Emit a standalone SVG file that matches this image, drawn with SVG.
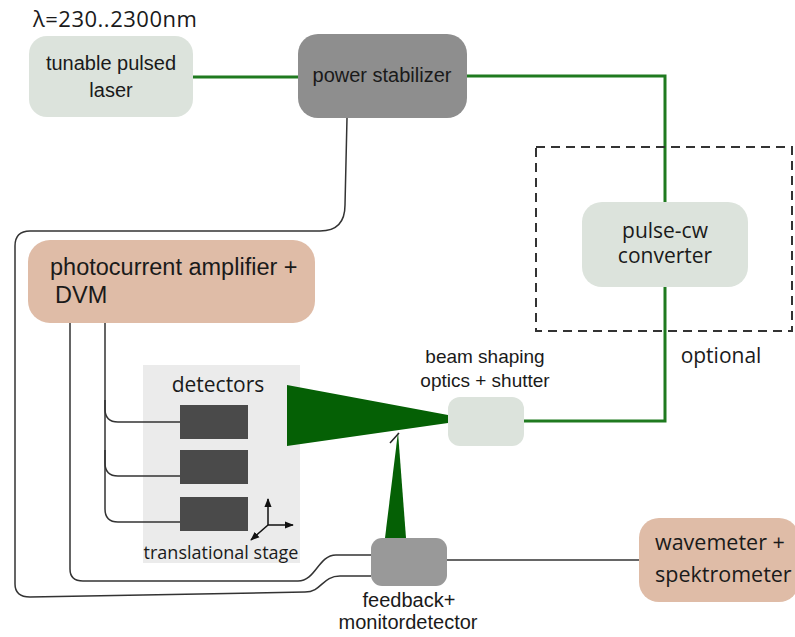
<svg xmlns="http://www.w3.org/2000/svg" width="795" height="637" viewBox="0 0 795 637">
<style>
.sans{font-family:"Liberation Sans",Arial,sans-serif;fill:#1a1a1a}
.open{font-family:"Open Sans","DejaVu Sans",sans-serif;fill:#1a1a1a}
.lg{fill:#dce3dc}
.tan{fill:#dfbca7}
.wire{fill:none;stroke:#333;stroke-width:1.5}
.fiber{fill:none;stroke:#1f7a1f;stroke-width:3}
.beam{fill:#056005}
</style>
<defs>
<marker id="ah" viewBox="0 0 10 10" refX="9" refY="5" markerWidth="6" markerHeight="6" orient="auto">
<path d="M0,1 L10,5 L0,9 z" fill="#111"/>
</marker>
</defs>
<rect width="795" height="637" fill="#fff"/>

<g id="stage">
<rect x="143" y="365" width="157" height="198" fill="#ebebeb"/>
<text class="open" x="218" y="392" font-size="21" text-anchor="middle">detectors</text>
<rect x="180" y="405" width="68" height="34" fill="#4a4a4a"/>
<rect x="180" y="450" width="68" height="34" fill="#4a4a4a"/>
<rect x="180" y="497" width="68" height="34" fill="#4a4a4a"/>
<g stroke="#111" stroke-width="1.5" fill="none">
<line x1="268" y1="525" x2="268" y2="499" marker-end="url(#ah)"/>
<line x1="268" y1="525" x2="293" y2="525" marker-end="url(#ah)"/>
<line x1="268" y1="525" x2="251" y2="540" marker-end="url(#ah)"/>
</g>
<text class="open" x="221" y="559" font-size="18" text-anchor="middle">translational stage</text>
</g>

<g id="connectors">
<path class="fiber" d="M193,77 H298"/>
<path class="fiber" d="M467,76 H665 V202"/>
<path class="fiber" d="M665,287 V421 H524"/>
<path class="wire" d="M347,118 L345,205 Q345,231 320,231 H30 Q15,231 15,246 V584 Q15,597 30,597 L305,592 C322,592 322,576 340,576 H371"/>
<path class="wire" d="M70,323 V569 Q70,581 83,581 H298 C316,581 318,555 336,555 H371"/>
<path class="wire" d="M105,323 V409 Q105,422 118,422 H180"/>
<path class="wire" d="M105,400 V463 Q105,476 118,476 H180"/>
<path class="wire" d="M105,450 V509 Q105,522 118,522 H180"/>
<path d="M447,560 H639" fill="none" stroke="#666" stroke-width="2"/>
<polygon class="beam" points="287,385 448,415 448,423 287,446"/>
<polygon class="beam" points="385,538 398,432 406,538"/>
<line x1="390" y1="443" x2="399" y2="433" stroke="#222" stroke-width="1.5"/>
</g>

<g id="laser">
<text class="open" x="33" y="27" font-size="22" letter-spacing="0.5">λ=230..2300nm</text>
<rect class="lg" x="29" y="36" width="164" height="81" rx="18"/>
<text class="sans" x="111" y="70" font-size="20" text-anchor="middle">tunable pulsed</text>
<text class="sans" x="111" y="97" font-size="20" text-anchor="middle">laser</text>
</g>

<g id="power-stabilizer">
<rect x="298" y="34" width="169" height="84" rx="20" fill="#8e8e8e"/>
<text class="sans" x="382" y="82" font-size="20" text-anchor="middle">power stabilizer</text>
</g>

<g id="optional">
<rect x="536" y="147" width="256" height="184" fill="none" stroke="#333" stroke-width="2" stroke-dasharray="9 6"/>
<text class="open" x="721" y="363" font-size="21" text-anchor="middle">optional</text>
</g>

<g id="pulse-cw">
<rect class="lg" x="582" y="202" width="166" height="85" rx="20"/>
<text class="open" x="665" y="238" font-size="21" text-anchor="middle">pulse-cw</text>
<text class="open" x="665" y="263" font-size="21" text-anchor="middle">converter</text>
</g>

<g id="amplifier">
<rect class="tan" x="28" y="240" width="287" height="83" rx="22"/>
<text class="sans" x="50" y="275" font-size="23.5">photocurrent amplifier +</text>
<text class="sans" x="55" y="303" font-size="23.5">DVM</text>
</g>

<g id="beam-shaping">
<text class="sans" x="485" y="363" font-size="19" text-anchor="middle">beam shaping</text>
<text class="sans" x="485" y="387" font-size="19" text-anchor="middle">optics + shutter</text>
<rect class="lg" x="448" y="397" width="76" height="49" rx="12"/>
</g>

<g id="feedback">
<rect x="371" y="538" width="76" height="48" rx="11" fill="#999"/>
<text class="sans" x="409" y="607" font-size="20" text-anchor="middle">feedback+</text>
<text class="sans" x="408" y="629" font-size="20" text-anchor="middle">monitordetector</text>
</g>

<g id="wavemeter">
<rect class="tan" x="639" y="518" width="160" height="84" rx="20"/>
<text class="open" x="655" y="550" font-size="21.5">wavemeter +</text>
<text class="open" x="655" y="582" font-size="21.5">spektrometer</text>
</g>
</svg>
